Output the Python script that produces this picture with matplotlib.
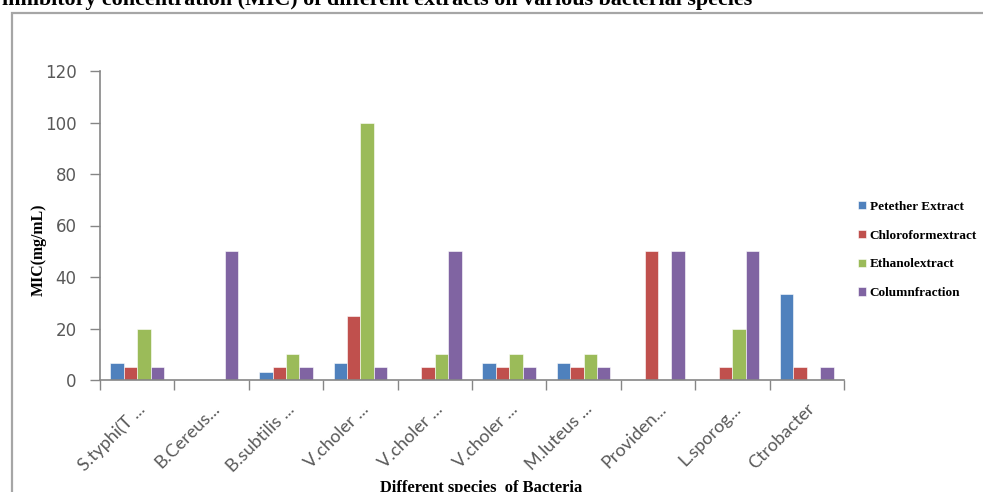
import numpy as np
import matplotlib
matplotlib.use("Agg")
import matplotlib.pyplot as plt
from matplotlib.patches import Rectangle

# MIC values (mg/mL) per bacterial species
bacteria = ["S.typhi(T ...", "B.Cereus...", "B.subtilis ...", "V.choler ...", "V.choler ...",
            "V.choler ...", "M.luteus ...", "Providen...", "L.sporog...", "Ctrobacter"]
pet_ether = [6.67, 0, 3, 6.67, 0, 6.67, 6.67, 0, 0, 33.3]
chloroform = [5, 0, 5, 25, 5, 5, 5, 50, 5, 5]
ethanol = [20, 0, 10, 100, 10, 10, 10, 0, 20, 0]
column = [5, 50, 5, 5, 50, 5, 5, 50, 50, 5]

series = [
    ("Petether Extract", pet_ether, "#4F81BD"),
    ("Chloroformextract", chloroform, "#C0504D"),
    ("Ethanolextract", ethanol, "#9BBB59"),
    ("Columnfraction", column, "#8064A2"),
]
yticks = [0, 20, 40, 60, 80, 100, 120]

fig = plt.figure(figsize=(9.83, 4.92), dpi=100)
ax = fig.add_axes([100 / 983, 1 - 380 / 492, 744 / 983, 309 / 492])

# chart area border
fig.patches.append(Rectangle((12 / 983, -0.1), 1.2, 1.1 - 12.5 / 492, transform=fig.transFigure,
                             fill=False, edgecolor="#a6a6a6", linewidth=1.6))

x = np.arange(len(bacteria))
w = 0.18
handles = []
for i, (name, vals, col) in enumerate(series):
    b = ax.bar(x + (i - 1.5) * w, vals, width=w, color=col, edgecolor="white", linewidth=0.4, label=name)
    handles.append(b)

ax.set_xlim(-0.5, len(bacteria) - 0.5)
ax.set_ylim(0, 120)
ax.set_yticks(yticks)
ax.tick_params(axis="y", length=7, width=1, color="#868686", labelcolor="#595959", labelsize=12, pad=10)
ax.set_xticks(x)
ax.set_xticklabels(bacteria, rotation=45, ha="right", rotation_mode="anchor", fontsize=13,
                   family="Lato", color="#595959")
ax.tick_params(axis="x", length=0, pad=15)
ax.set_xticks(np.arange(-0.5, len(bacteria)), minor=True)
ax.tick_params(axis="x", which="minor", length=7, width=1, color="#868686")

for s in ["top", "right"]:
    ax.spines[s].set_visible(False)
for s in ["left", "bottom"]:
    ax.spines[s].set_color("#868686")
    ax.spines[s].set_linewidth(1.2)

fig.text(39 / 983, 1 - 250 / 492, "MIC(mg/mL)", family="Liberation Serif", fontweight="bold",
         fontsize=11.4, rotation=90, ha="center", va="center")

fig.text(481 / 983, 0.5 / 492, "Different species  of Bacteria", family="Liberation Serif",
         fontweight="bold", fontsize=11.9, ha="center", va="baseline")

fig.text(752 / 983, 1 - 5.5 / 492,
         "Minimum inhibitory concentration (MIC) of different extracts on various bacterial species",
         family="Liberation Serif", fontweight="bold", fontsize=15.8, ha="right", va="baseline")

ax.legend(handles=handles, loc="center left", bbox_to_anchor=(846 / 983, 1 - 250 / 492),
          bbox_transform=fig.transFigure, frameon=False, handlelength=0.6, handleheight=0.6,
          handletextpad=0.3, labelspacing=1.27, prop={"family": "Liberation Serif", "weight": "bold", "size": 9.5})

fig.savefig("out.png", dpi=100)
